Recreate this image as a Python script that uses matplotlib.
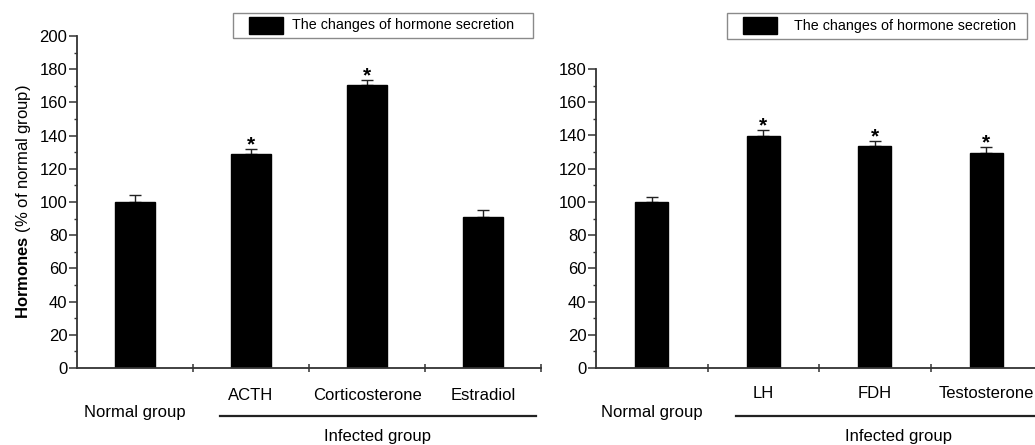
import matplotlib as mpl
mpl.use('Agg')
import matplotlib.pyplot as plt
import matplotlib.transforms as transforms
import matplotlib.patches as mpatches
from matplotlib.ticker import MultipleLocator, FixedLocator, NullFormatter
import numpy as np

plt.rcParams['font.family'] = ['Liberation Sans', 'DejaVu Sans']
plt.rcParams['mathtext.fontset'] = 'custom'
plt.rcParams['mathtext.rm'] = 'Liberation Sans'
plt.rcParams['mathtext.bf'] = 'Liberation Sans:bold'

# left panel: adrenal / ovarian hormones
left_labels = ["Normal group", "ACTH", "Corticosterone", "Estradiol"]
left_values = [100, 128.7, 170.3, 91]
left_err = [4.4, 3.3, 3.4, 4.0]
left_sig = [False, True, True, False]

# right panel: gonadal hormones
right_labels = ["Normal group", "LH", "FDH", "Testosterone"]
right_values = [100, 139.7, 133.7, 129.5]
right_err = [3.0, 3.3, 3.0, 3.5]
right_sig = [False, True, True, True]

legend_text = "The changes of hormone secretion"
group_text = "Infected group"

W, H = 1035, 445
fig = plt.figure(figsize=(W / 100, H / 100), dpi=100)

def px_box(x0, y0, x1, y1):
    # pixel box (top-left origin) -> figure fraction rect
    return [x0 / W, 1 - y1 / H, (x1 - x0) / W, (y1 - y0) / H]

axL = fig.add_axes(px_box(77, 36, 541, 368))
axR = fig.add_axes(px_box(596, 69, 1042, 368))

spine_col = '#333333'

def draw_panel(ax, labels, values, errs, sig, ymax, barw, capsize,
               y_cat, y_norm, y_line, y_group, line_x, group_x):
    x = np.arange(len(values))
    ax.bar(x, values, width=barw, color='black', edgecolor='black', zorder=2)
    ax.errorbar(x, values, yerr=[np.zeros(len(errs)), errs], fmt='none',
                ecolor='#222222', elinewidth=1.0, capsize=capsize,
                capthick=1.0, zorder=1)
    for xi, v, e, s in zip(x, values, errs, sig):
        if s:
            ax.annotate('*', (xi, v + e), xytext=(0, -1),
                        textcoords='offset points', ha='center',
                        va='baseline', fontsize=15, fontweight='bold')

    ax.set_xlim(-0.5, len(values) - 0.5)
    ax.set_ylim(0, ymax)
    for sp in ['top', 'right']:
        ax.spines[sp].set_visible(False)
    for sp in ['left', 'bottom']:
        ax.spines[sp].set_color(spine_col)
        ax.spines[sp].set_linewidth(1.3)

    ax.yaxis.set_major_locator(MultipleLocator(20))
    ax.yaxis.set_minor_locator(MultipleLocator(10))
    ax.tick_params(axis='y', which='major', length=6, width=1.1,
                   color=spine_col, labelsize=12, pad=1)
    ax.tick_params(axis='y', which='minor', length=2.5, width=1.0,
                   color=spine_col)
    # x ticks sit on the boundaries between categories
    ax.xaxis.set_major_locator(FixedLocator(list(x + 0.5)))
    ax.xaxis.set_major_formatter(NullFormatter())
    ax.tick_params(axis='x', which='major', direction='inout', length=6,
                   width=1.1, color=spine_col)

    trans = transforms.blended_transform_factory(ax.transData, fig.transFigure)
    for xi, lab in zip(x[1:], labels[1:]):
        ax.text(xi, 1 - y_cat / H, lab, transform=trans, ha='center',
                va='center', fontsize=12, clip_on=False)
    ax.text(0, 1 - y_norm / H, labels[0], transform=trans, ha='center',
            va='center', fontsize=12, clip_on=False)
    ax.plot(line_x, [1 - y_line / H] * 2, transform=trans, color='#222222',
            lw=1.6, clip_on=False)
    ax.text(group_x, 1 - y_group / H, group_text, transform=trans,
            ha='center', va='center', fontsize=12, clip_on=False)

draw_panel(axL, left_labels, left_values, left_err, left_sig, 200, 0.345,
           4.5, 396, 413, 416, 437, [0.73, 3.46], 2.09)
draw_panel(axR, right_labels, right_values, right_err, right_sig, 180, 0.30,
           4.0, 394, 412, 416, 437, [0.76, 3.45], 2.21)

axL.set_ylabel(r"$\mathbf{Hormones}$ (% of normal group)", fontsize=12)
axL.yaxis.set_label_coords(-0.095, 0.5)

def draw_legend(box, patch, text_x):
    x0, y0, x1, y1 = box
    fig.patches.append(mpatches.Rectangle(
        (x0 / W, 1 - y1 / H), (x1 - x0) / W, (y1 - y0) / H,
        transform=fig.transFigure, facecolor='white', edgecolor='#8a8a8a',
        lw=1.0))
    px0, py0, px1, py1 = patch
    fig.patches.append(mpatches.Rectangle(
        (px0 / W, 1 - py1 / H), (px1 - px0) / W, (py1 - py0) / H,
        transform=fig.transFigure, facecolor='black', edgecolor='black'))
    fig.text(text_x / W, 1 - (y0 + y1) / 2 / H, legend_text, ha='left',
             va='center', fontsize=10.3)

draw_legend((233, 13, 533, 38), (249, 17, 283, 34), 292)
draw_legend((727, 13, 1027, 39), (743, 17, 777, 34), 794)

fig.savefig('out.png', dpi=100)
